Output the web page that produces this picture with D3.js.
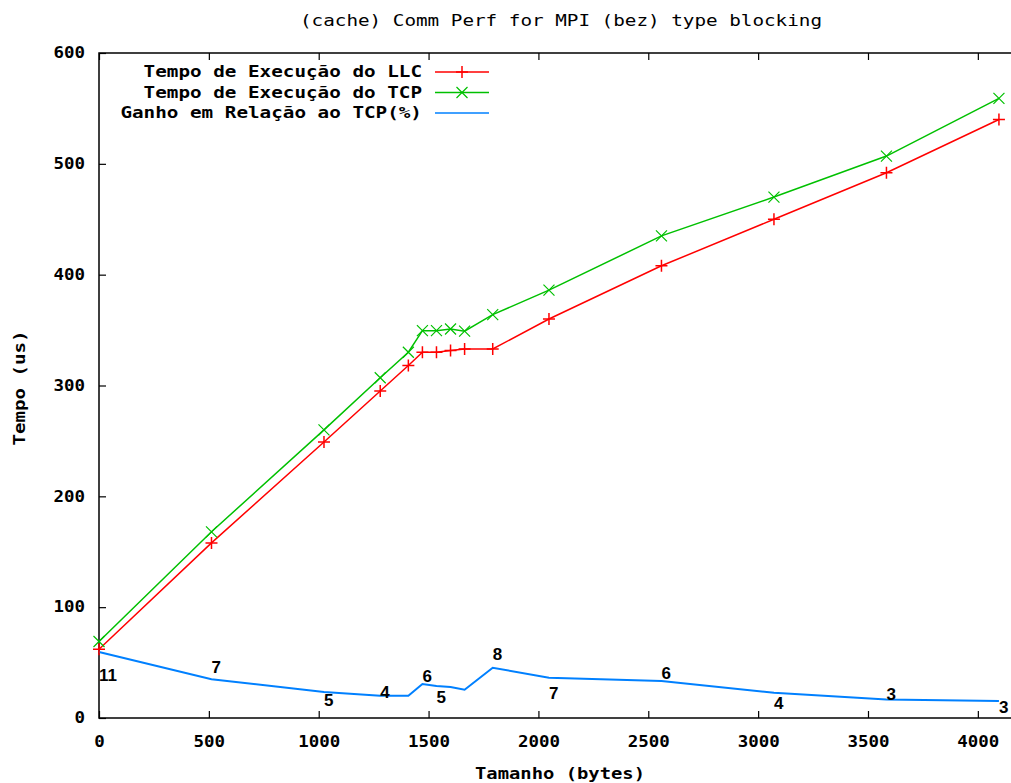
<!DOCTYPE html>
<html>
<head>
<meta charset="utf-8">
<script src="https://cdn.jsdelivr.net/npm/d3@7"></script>
<style>
  body { margin: 0; background: #fff; }
</style>
</head>
<body>
<div id="chart"></div>
<script>
// message sizes (bytes)
const sizes = [0, 512, 1024, 1280, 1408, 1472, 1536, 1600, 1664, 1792, 2048, 2560, 3072, 3584, 4096];
// Tempo de Execução do LLC (us)
const llcTime = [62, 158, 249, 295, 318, 330, 330, 331.5, 333, 333, 360, 408, 450, 492, 540];
// Tempo de Execução do TCP (us)
const tcpTime = [69, 168, 260, 307, 330, 349.5, 349.5, 351, 349, 364, 386, 435, 470, 507, 559];
// Ganho em Relação ao TCP (%) curve, as drawn
const gainLine = [59.5, 35, 23.5, 20, 20, 30.6, 28.8, 28, 25.5, 45.3, 36.3, 33.3, 22.8, 16.8, 15.3];
// gain labels and where they sit (data units)
const gainLabels = ["11", "7", "5", "4", null, "6", "5", null, null, "8", "7", "6", "4", "3", "3"];
const gainLabelY = [39, 46, 16, 24, null, 38, 19, null, null, 58, 23, 40.5, 14, 22, 10];

const xTicks = [0, 500, 1000, 1500, 2000, 2500, 3000, 3500, 4000];
const yTicks = [0, 100, 200, 300, 400, 500, 600];

const seriesNames = ["Tempo de Execução do LLC", "Tempo de Execução do TCP", "Ganho em Relação ao TCP(%)"];
const colors = ["#ff0000", "#00c000", "#0080ff"];

const W = 1011, H = 783;
const plot = { left: 99, right: 1013, top: 53, bottom: 718 };
const mono = "'DejaVu Sans Mono', monospace";

const svg = d3.select("#chart").append("svg")
    .attr("width", W)
    .attr("height", H)
    .style("display", "block");

const x = d3.scaleLinear().domain([0, 4160]).range([plot.left, plot.right]);
const y = d3.scaleLinear().domain([0, 600]).range([plot.bottom, plot.top]);

// title
svg.append("text")
    .attr("x", 561)
    .attr("y", 26)
    .attr("text-anchor", "middle")
    .attr("font-family", mono)
    .attr("font-size", "16px")
    .attr("textLength", 522)
    .attr("lengthAdjust", "spacingAndGlyphs")
    .text("(cache) Comm Perf for MPI (bez) type blocking");

// axes (gnuplot style: inward ticks, mirrored on top)
svg.append("g")
    .attr("transform", `translate(0,${plot.bottom})`)
    .call(d3.axisBottom(x).tickValues(xTicks).tickSize(-7).tickPadding(18).tickFormat(d3.format("d")));
svg.append("g")
    .attr("transform", `translate(${plot.left},0)`)
    .call(d3.axisLeft(y).tickValues(yTicks).tickSize(-7).tickPadding(14).tickFormat(d3.format("d")));
svg.append("g")
    .attr("transform", `translate(0,${plot.top})`)
    .call(d3.axisTop(x).tickValues(xTicks).tickSize(-7).tickFormat(""));

svg.selectAll(".domain").remove();
svg.selectAll(".tick line").attr("stroke", "#000").attr("stroke-width", 1.2);
svg.selectAll(".tick text")
    .attr("font-family", mono)
    .attr("font-weight", "bold")
    .attr("font-size", "15px")
    .attr("fill", "#000")
    .attr("lengthAdjust", "spacingAndGlyphs")
    .attr("textLength", function() { return this.textContent.length * 10.5; });

svg.append("rect")
    .attr("x", plot.left)
    .attr("y", plot.top)
    .attr("width", plot.right - plot.left)
    .attr("height", plot.bottom - plot.top)
    .attr("fill", "none")
    .attr("stroke", "#000")
    .attr("stroke-width", 1.5);

// axis titles
svg.append("text")
    .attr("x", 560)
    .attr("y", 779)
    .attr("text-anchor", "middle")
    .attr("font-family", mono)
    .attr("font-weight", "bold")
    .attr("font-size", "15px")
    .attr("textLength", 170)
    .attr("lengthAdjust", "spacingAndGlyphs")
    .text("Tamanho (bytes)");

svg.append("text")
    .attr("transform", "translate(25,388) rotate(-90)")
    .attr("text-anchor", "middle")
    .attr("font-family", mono)
    .attr("font-weight", "bold")
    .attr("font-size", "15px")
    .attr("textLength", 115)
    .attr("lengthAdjust", "spacingAndGlyphs")
    .text("Tempo (us)");

const line = d3.line()
    .x(d => x(d[0]))
    .y(d => y(d[1]));

const llcPts = sizes.map((s, i) => [s, llcTime[i]]);
const tcpPts = sizes.map((s, i) => [s, tcpTime[i]]);
const gainPts = sizes.map((s, i) => [s, gainLine[i]]);

svg.append("path").datum(llcPts)
    .attr("fill", "none").attr("stroke", colors[0]).attr("stroke-width", 1.5)
    .attr("d", line);
svg.append("path").datum(tcpPts)
    .attr("fill", "none").attr("stroke", colors[1]).attr("stroke-width", 1.5)
    .attr("d", line);
svg.append("path").datum(gainPts)
    .attr("fill", "none").attr("stroke", colors[2]).attr("stroke-width", 2)
    .attr("d", line);

const plusPath = s => `M${-s},0H${s}M0,${-s}V${s}`;
const crossPath = s => `M${-s},${-s}L${s},${s}M${-s},${s}L${s},${-s}`;

svg.selectAll(".llc-pt")
    .data(llcPts)
    .enter().append("path")
    .attr("class", "llc-pt")
    .attr("transform", d => `translate(${x(d[0])},${y(d[1])})`)
    .attr("d", plusPath(6))
    .attr("stroke", colors[0])
    .attr("stroke-width", 1.5);

svg.selectAll(".tcp-pt")
    .data(tcpPts)
    .enter().append("path")
    .attr("class", "tcp-pt")
    .attr("transform", d => `translate(${x(d[0])},${y(d[1])})`)
    .attr("d", crossPath(5.5))
    .attr("stroke", colors[1])
    .attr("stroke-width", 1.2);

// gain labels
const labelData = sizes.map((s, i) => ({ s, text: gainLabels[i], v: gainLabelY[i] }))
    .filter(d => d.text !== null);

svg.selectAll(".gain-label")
    .data(labelData)
    .enter().append("text")
    .attr("class", "gain-label")
    .attr("x", d => x(d.s))
    .attr("y", d => y(d.v))
    .attr("dy", "0.36em")
    .attr("font-family", "'Liberation Sans', Arial, sans-serif")
    .attr("font-weight", "bold")
    .attr("font-size", "17px")
    .text(d => d.text);

// legend
const legend = svg.append("g");
seriesNames.forEach((name, i) => {
    const ly = 72 + i * 20.5;
    legend.append("text")
        .attr("x", 422)
        .attr("y", ly)
        .attr("dy", "0.35em")
        .attr("text-anchor", "end")
        .attr("font-family", mono)
        .attr("font-weight", "bold")
        .attr("font-size", "15px")
        .attr("textLength", name.length * 11.6)
        .attr("lengthAdjust", "spacingAndGlyphs")
        .text(name);
    legend.append("line")
        .attr("x1", 435).attr("x2", 489)
        .attr("y1", ly).attr("y2", ly)
        .attr("stroke", colors[i])
        .attr("stroke-width", 1.5);
    if (i === 0) {
        legend.append("path")
            .attr("transform", `translate(462,${ly})`)
            .attr("d", plusPath(6))
            .attr("stroke", colors[0]).attr("stroke-width", 1.5);
    } else if (i === 1) {
        legend.append("path")
            .attr("transform", `translate(462,${ly})`)
            .attr("d", crossPath(5.5))
            .attr("stroke", colors[1]).attr("stroke-width", 1.2);
    }
});
</script>
</body>
</html>
